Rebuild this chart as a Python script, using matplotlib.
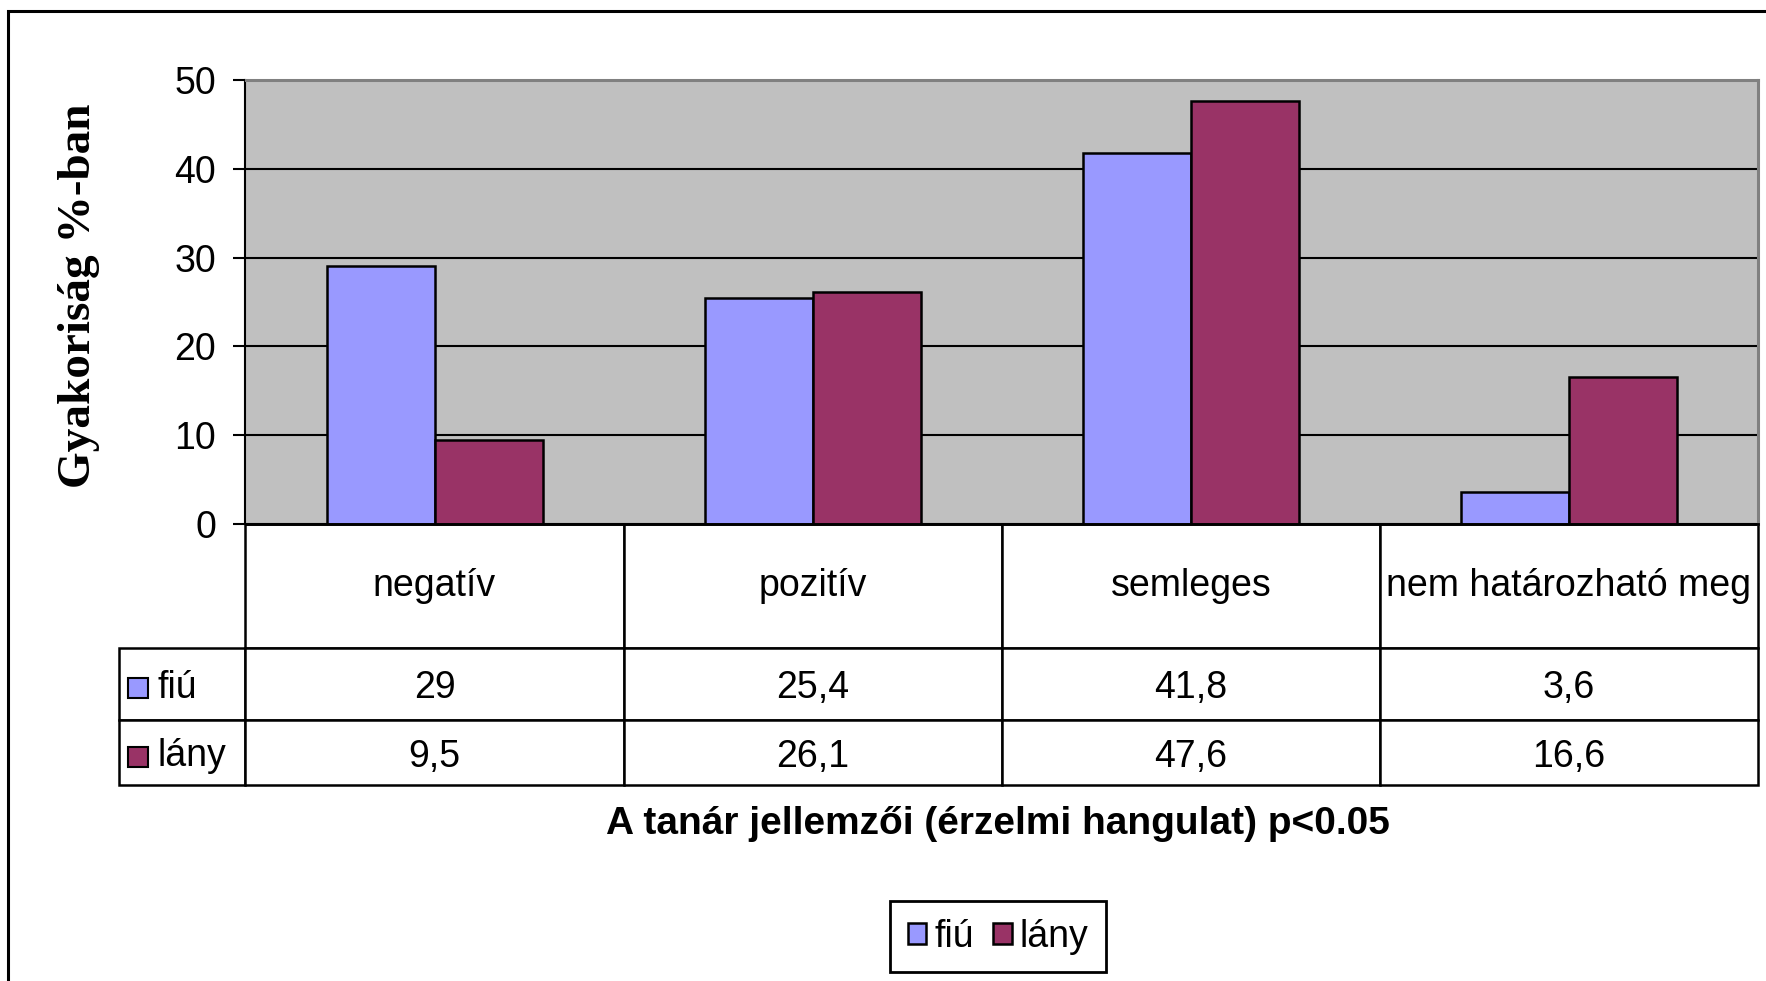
import numpy as np
import matplotlib
matplotlib.use('Agg')
import matplotlib.pyplot as plt
from matplotlib.patches import Rectangle

plt.rcParams['font.family'] = ['Liberation Sans', 'DejaVu Sans']

# adatok
kategoriak = ['negatív', 'pozitív', 'semleges', 'nem határozható meg']
sorok = ['fiú', 'lány']
fiu = [29, 25.4, 41.8, 3.6]
lany = [9.5, 26.1, 47.6, 16.6]
szinek = ['#9999FF', '#993366']


def fmt(v):
  return f"{v:g}".replace('.', ',')


W, H = 1766, 981
fig = plt.figure(figsize=(W / 100, H / 100), dpi=100)

# rajzterület (pixelben)
px_l, px_r, px_t, px_b = 245.5, 1758, 80, 524
ax_w, ax_h = px_r - px_l, px_b - px_t
ax = fig.add_axes([px_l / W, 1 - px_b / H, ax_w / W, ax_h / H])
ax.set_facecolor('#C0C0C0')
ax.set_axisbelow(True)
ax.yaxis.grid(True, color='black', lw=1.5)

x = np.arange(len(kategoriak))
w = 1 / 3.5
b1 = ax.bar(x - w / 2, fiu, w, color=szinek[0], edgecolor='black', lw=1.8, label=sorok[0])
b2 = ax.bar(x + w / 2, lany, w, color=szinek[1], edgecolor='black', lw=1.8, label=sorok[1])
ax.set_xlim(-0.5, len(kategoriak) - 0.5)
ax.set_ylim(0, 50)
ax.set_yticks(range(0, 51, 10))
ax.set_xticks([])
ax.tick_params(axis='y', direction='out', length=9, width=1.5, pad=12, labelsize=27)
for s in ['top', 'right']:
  ax.spines[s].set_color('#808080')
  ax.spines[s].set_linewidth(2.2)
ax.spines['left'].set_linewidth(1.5)
ax.spines['bottom'].set_linewidth(2)

ax.set_ylabel('Gyakoriság %-ban', family=['Liberation Serif'], fontweight='bold', fontsize=34)
ax.yaxis.set_label_coords(-0.0965, 0.515)

# táblázat a tengely alatt (első oszlop = sorcímkék)
lab_l, tab_b = 119.4, 785
hdr_h, row_h = 124, [72, 65]
lab_w, col_w = 126, 378
sor_adat = [[sorok[0]] + [fmt(v) for v in fiu],
            [sorok[1]] + [fmt(v) for v in lany]]
tabla = ax.table(cellText=sor_adat, colLabels=[''] + kategoriak,
                 cellLoc='center', colLoc='center',
                 colWidths=[lab_w] + [col_w] * len(kategoriak),
                 bbox=[(lab_l - px_l) / ax_w, -(tab_b - px_b) / ax_h,
                       (px_r - lab_l) / ax_w, (tab_b - px_b) / ax_h])
tabla.auto_set_font_size(False)
tabla.set_fontsize(27)
for (r, c), cell in tabla.get_celld().items():
  cell.set_height(hdr_h if r == 0 else row_h[r - 1])
  cell.set_linewidth(1.8)
  cell.set_edgecolor('black')
  if r > 0:
    cell.get_text().set_verticalalignment('center_baseline')
  if c == 0:
    cell._loc = 'left'
    cell.get_text().set_horizontalalignment('left')
    cell.PAD = 0.30
tabla[0, 0].visible_edges = ''

fig.canvas.draw()
# színes négyzetek a sorcímkék előtt
for i, szin in enumerate(szinek):
  cell = tabla[i + 1, 0]
  sq_w, sq_h = 20 / ax_w, 20 / ax_h
  cx = cell.get_x() + 9 / ax_w
  cy = cell.get_y() + cell.get_height() / 2 - sq_h / 2 - 4 / ax_h
  ax.add_patch(Rectangle((cx, cy), sq_w, sq_h, transform=ax.transAxes, clip_on=False,
                         facecolor=szin, edgecolor='black', lw=1.5, zorder=5))

fig.text(998 / W, 1 - 824.5 / H, 'A tanár jellemzői (érzelmi hangulat) p<0.05',
         ha='center', va='center', fontsize=28, fontweight='bold')

leg = fig.legend(handles=[b1, b2], loc='center', bbox_to_anchor=(998 / W, 1 - 936.6 / H),
                 ncol=2, fontsize=27, fancybox=False, edgecolor='black', framealpha=1,
                 handlelength=0.5, handleheight=0.5, handletextpad=0.22,
                 columnspacing=0.5, borderpad=0.46, borderaxespad=0)
leg.get_frame().set_linewidth(2)

# külső keret
fig.add_artist(Rectangle((8 / W, -0.05), 1.1, 1 - 11.3 / H + 0.05, transform=fig.transFigure,
                         fill=False, lw=2.2, edgecolor='black'))

plt.savefig('out.png', dpi=100)
